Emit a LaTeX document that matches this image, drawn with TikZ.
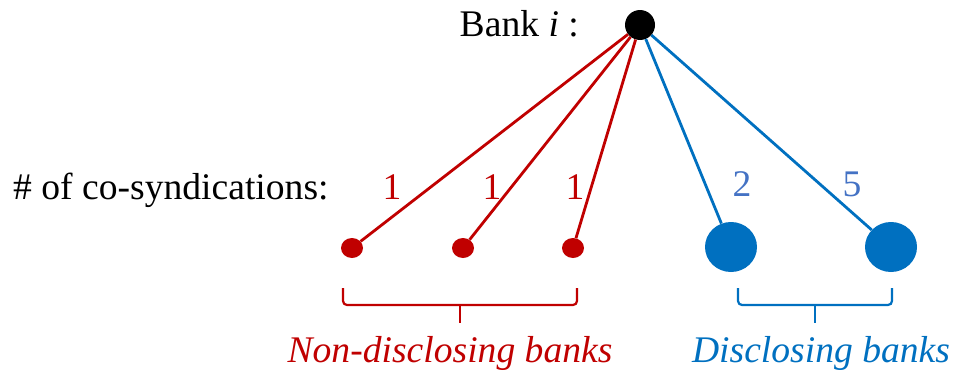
\documentclass[tikz,border=0pt]{standalone}
\usepackage{fontspec}
\setmainfont{Liberation Serif}
\usetikzlibrary{shapes.geometric}
\definecolor{cred}{HTML}{C00000}
\definecolor{cblue}{HTML}{0070C0}
\definecolor{clab}{HTML}{4472C4}
\begin{document}
\begin{tikzpicture}[x=1pt,y=-1pt,
  every node/.style={font=\fontsize{37.6}{44}\selectfont, inner sep=0pt},
  smalldot/.style={ellipse, fill=cred, minimum width=22pt, minimum height=20pt},
  bigdot/.style={ellipse, fill=cblue, minimum width=52pt, minimum height=50pt},
  redline/.style={cred, line width=2.8pt},
  blueline/.style={cblue, line width=2.8pt},
  bracestyle/.style={line width=2.2pt, rounded corners=4pt},
  lbl/.style={anchor=base}]
\useasboundingbox (0,0) rectangle (955,372);
% nodes
\node[circle, fill=black, minimum size=30pt] (top) at (640,25) {};
\node[smalldot] (r1) at (352,248) {};
\node[smalldot] (r2) at (463,248) {};
\node[smalldot] (r3) at (573,248) {};
\node[bigdot] (b1) at (731,247) {};
\node[bigdot] (b2) at (891,247) {};
% edges
\draw[redline] (top) -- (r1);
\draw[redline] (top) -- (r2);
\draw[redline] (top) -- (r3);
\draw[blueline] (top) -- (b1);
\draw[blueline] (top) -- (b2);
% texts
\node[lbl, anchor=base east] (bank) at (579,36) {Bank \textit{i} :};
\node[lbl, anchor=base west] (cosyn) at (13,199) {\# of co-syndications:};
\node[lbl, text=cred] (l1) at (392,199) {1};
\node[lbl, text=cred] (l2) at (492,199) {1};
\node[lbl, text=cred] (l3) at (575,199) {1};
\node[lbl, text=clab] (l4) at (742,196) {2};
\node[lbl, text=clab] (l5) at (852,196) {5};
% braces
\draw[bracestyle, cred] (343,288) -- (343,305) -- (577,305) -- (577,288);
\draw[bracestyle, cred] (460,305) -- (460,323);
\draw[bracestyle, cblue] (738,288) -- (738,305) -- (892,305) -- (892,288);
\draw[bracestyle, cblue] (815,305) -- (815,323);
\node[lbl, text=cred] (nd) at (450,362) {\itshape Non-disclosing banks};
\node[lbl, text=cblue] (dd) at (821,362) {\itshape Disclosing banks};
\end{tikzpicture}
\end{document}
